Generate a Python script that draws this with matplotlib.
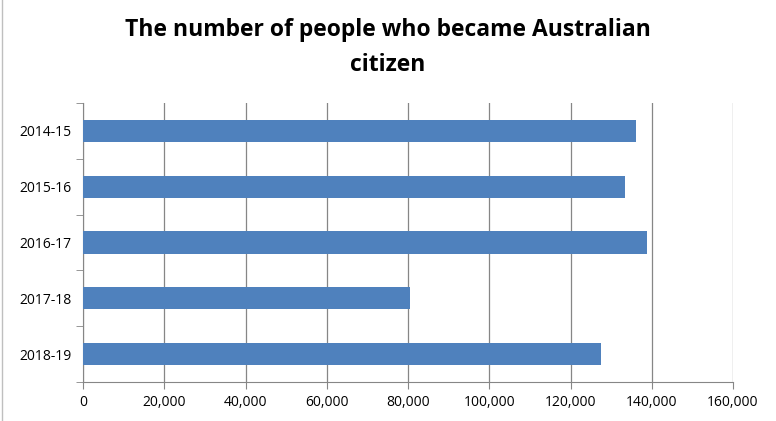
import matplotlib
matplotlib.use("Agg")
from matplotlib import pyplot as plt
from matplotlib.ticker import FuncFormatter, FixedLocator

years = ["2014-15", "2015-16", "2016-17", "2017-18", "2018-19"]
citizens = [136200, 133500, 138900, 80500, 127400]

BAR_COLOR = "#4f81bd"
GRID_COLOR = "#868686"

plt.rcParams["font.family"] = ["Open Sans", "DejaVu Sans"]

fig = plt.figure(figsize=(7.76, 4.21), dpi=100)
ax = fig.add_axes([83 / 776, 1 - 382 / 421, (733 - 83) / 776, (382 - 103) / 421])

pos = list(range(len(years)))
ax.barh(pos, citizens, height=0.4, color=BAR_COLOR, zorder=3)
ax.set_ylim(len(years) - 0.5, -0.5)
ax.set_xlim(0, 160000)
ax.set_xticks(range(0, 160001, 20000))
ax.xaxis.set_major_formatter(FuncFormatter(lambda v, _: f"{int(v):,}"))
ax.set_yticks(pos)
ax.set_yticklabels(years)
ax.yaxis.set_minor_locator(FixedLocator([p - 0.5 for p in range(len(years) + 1)]))
ax.tick_params(axis="y", which="major", length=0, pad=8, labelsize=10)
ax.tick_params(axis="y", which="minor", length=5, color=GRID_COLOR)
ax.tick_params(axis="x", length=5, color=GRID_COLOR, labelsize=10, pad=4)
ax.grid(axis="x", color=GRID_COLOR, linewidth=0.9, zorder=0)
for side in ("top", "right"):
    ax.spines[side].set_visible(False)
for side in ("left", "bottom"):
    ax.spines[side].set_color(GRID_COLOR)

fig.text(0.5, 1 - 30 / 421, "The number of people who became Australian", ha="center",
         va="center", fontsize=16.5, fontweight="bold")
fig.text(0.5, 1 - 65 / 421, "citizen", ha="center", va="center", fontsize=16.5, fontweight="bold")
fig.add_artist(plt.Line2D([2 / 776, 2 / 776], [0, 1], color="#bfbfbf", linewidth=1))

fig.savefig("out.png", dpi=100)
